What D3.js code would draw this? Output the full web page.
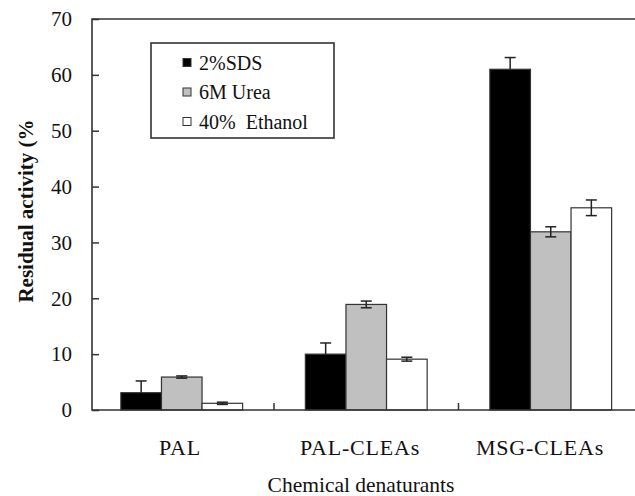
<!DOCTYPE html>
<html>
<head>
<meta charset="utf-8">
<script src="https://cdn.jsdelivr.net/npm/d3@7"></script>
<style>
  body { margin: 0; background: #fff; }
  svg { display: block; }
  svg text { font-family: "Liberation Serif", "Times New Roman", serif; }
</style>
</head>
<body>
<div id="chart"></div>
<script>
// data
var categories = ["PAL", "PAL-CLEAs", "MSG-CLEAs"];
var seriesNames = ["2%SDS", "6M Urea", "40%  Ethanol"];
var sdsValues = [3.1, 10.0, 61.0];
var sdsErrors = [2.1, 2.0, 2.1];
var ureaValues = [5.9, 18.9, 31.9];
var ureaErrors = [0.2, 0.6, 0.9];
var ethanolValues = [1.2, 9.1, 36.2];
var ethanolErrors = [0.2, 0.35, 1.4];
var yTicks = [0, 10, 20, 30, 40, 50, 60, 70];

var colors = ["#000000", "#c0c0c0", "#ffffff"];
var SERIF = "Liberation Serif";

var width = 635, height = 496;
var svg = d3.select("#chart").append("svg")
  .attr("width", width)
  .attr("height", height);

var x0 = d3.scaleBand()
  .domain(categories)
  .range([89.5, 643])
  .paddingInner(0.34)
  .paddingOuter(0.17);

var x1 = d3.scaleBand()
  .domain(seriesNames)
  .range([0, x0.bandwidth()]);

// labels in the original sit a bit closer together than the groups
var xLabel = d3.scalePoint()
  .domain(categories)
  .range([180, 540]);

var y = d3.scaleLinear()
  .domain([0, 70])
  .range([410, 19]);

var series = [
  { name: seriesNames[0], values: sdsValues, errors: sdsErrors, color: colors[0], lower: false },
  { name: seriesNames[1], values: ureaValues, errors: ureaErrors, color: colors[1], lower: true },
  { name: seriesNames[2], values: ethanolValues, errors: ethanolErrors, color: colors[2], lower: true }
];

var rows = [];
categories.forEach(function(c, i) {
  series.forEach(function(s) {
    rows.push({ cat: c, name: s.name, v: s.values[i], e: s.errors[i], color: s.color, lower: s.lower });
  });
});

// bars
svg.append("g").selectAll("rect")
  .data(rows)
  .enter().append("rect")
  .attr("x", function(d) { return x0(d.cat) + x1(d.name); })
  .attr("y", function(d) { return y(d.v); })
  .attr("width", x1.bandwidth())
  .attr("height", function(d) { return y(0) - y(d.v); })
  .attr("fill", function(d) { return d.color; })
  .attr("stroke", "#333")
  .attr("stroke-width", 1.2);

// error bars (the lower half on the black bars is hidden in the original)
var eb = svg.append("g").attr("stroke", "#222").attr("stroke-width", 1.5);
rows.forEach(function(d) {
  var cx = x0(d.cat) + x1(d.name) + x1.bandwidth() / 2;
  var lo = d.lower ? Math.max(0, d.v - d.e) : d.v, hi = d.v + d.e;
  eb.append("line").attr("x1", cx).attr("x2", cx).attr("y1", y(lo)).attr("y2", y(hi));
  eb.append("line").attr("x1", cx - 5.5).attr("x2", cx + 5.5).attr("y1", y(hi)).attr("y2", y(hi));
  if (d.lower) {
    eb.append("line").attr("x1", cx - 5.5).attr("x2", cx + 5.5).attr("y1", y(lo)).attr("y2", y(lo));
  }
});

// y axis, ticks pointing inward
var yAxis = svg.append("g")
  .attr("transform", "translate(92,0)")
  .call(d3.axisRight(y).tickValues(yTicks).tickSize(7).tickFormat(d3.format("d")));
yAxis.select(".domain").remove();
yAxis.selectAll(".tick line").attr("stroke", "#333").attr("stroke-width", 1.5);
yAxis.selectAll(".tick text")
  .attr("x", -20)
  .attr("text-anchor", "end")
  .attr("fill", "#111")
  .style("font-size", "21px")
  .style("font-family", SERIF);

// frame: left, top, bottom
svg.append("path")
  .attr("d", "M" + 640 + "," + y(70) + "H92V" + y(0) + "H640")
  .attr("fill", "none")
  .attr("stroke", "#333")
  .attr("stroke-width", 1.6);

// x category boundary ticks
var bounds = categories.slice(1).map(function(c) { return x0(c) - x0.step() * x0.paddingInner() / 2; });
svg.append("g").selectAll("line")
  .data(bounds)
  .enter().append("line")
  .attr("x1", function(d) { return d; })
  .attr("x2", function(d) { return d; })
  .attr("y1", y(0))
  .attr("y2", y(0) - 7)
  .attr("stroke", "#333")
  .attr("stroke-width", 1.5);

// category labels
svg.append("g").selectAll("text")
  .data(categories)
  .enter().append("text")
  .attr("x", function(d) { return xLabel(d); })
  .attr("y", 455)
  .attr("text-anchor", "middle")
  .attr("fill", "#111")
  .style("font-family", SERIF)
  .style("font-size", "22px")
  .style("letter-spacing", "0.8px")
  .text(function(d) { return d; });

// axis titles
svg.append("text")
  .attr("x", 361)
  .attr("y", 492)
  .attr("text-anchor", "middle")
  .attr("fill", "#111")
  .style("font-family", SERIF)
  .style("font-size", "21.5px")
  .text("Chemical denaturants");

svg.append("text")
  .attr("transform", "translate(33,211) rotate(-90)")
  .attr("text-anchor", "middle")
  .attr("fill", "#111")
  .style("font-family", SERIF)
  .style("font-size", "21px")
  .style("font-weight", "bold")
  .text("Residual activity (%");

// legend
var legend = svg.append("g").attr("transform", "translate(151,43)");
legend.append("rect")
  .attr("width", 183)
  .attr("height", 95)
  .attr("fill", "#fff")
  .attr("stroke", "#333")
  .attr("stroke-width", 1.6);
var items = legend.selectAll("g.item")
  .data(series)
  .enter().append("g")
  .attr("class", "item")
  .attr("transform", function(d, i) { return "translate(32," + (19.5 + i * 29.5) + ")"; });
items.append("rect")
  .attr("x", 0)
  .attr("y", -4)
  .attr("width", 8)
  .attr("height", 8)
  .attr("fill", function(d) { return d.color; })
  .attr("stroke", "#333")
  .attr("stroke-width", 1);
items.append("text")
  .attr("x", 16)
  .attr("y", 7)
  .attr("fill", "#111")
  .attr("xml:space", "preserve")
  .style("white-space", "pre")
  .style("font-family", SERIF)
  .style("font-size", "20px")
  .text(function(d) { return d.name; });
</script>
</body>
</html>
